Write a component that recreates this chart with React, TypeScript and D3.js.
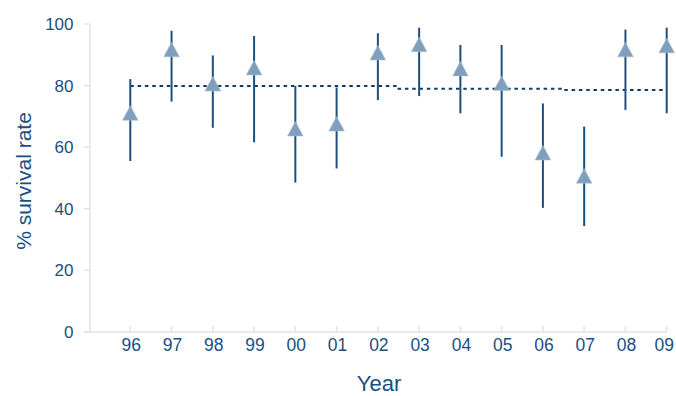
import React, { useEffect, useRef } from "react";
import * as d3 from "d3";

const years = ["96", "97", "98", "99", "00", "01", "02", "03", "04", "05", "06", "07", "08", "09"];
const survival = [71, 91.6, 80.5, 85.7, 65.9, 67.5, 90.6, 93.3, 85.4, 80.7, 58.1, 50.6, 91.6, 92.9];
const upper = [82.1, 97.8, 89.8, 96.1, 79.9, 79.4, 97, 98.8, 93.2, 93.2, 74.2, 66.7, 98.2, 98.8];
const lower = [55.5, 74.8, 66.3, 61.6, 48.5, 53.1, 75.3, 76.6, 71, 56.9, 40.3, 34.4, 72.1, 71];
const meanRate = [79.9, 79.9, 79.9, 79.9, 79.9, 79.9, 79.9, 79.0, 79.0, 79.0, 79.0, 78.6, 78.6, 78.6];
const yTicks = [0, 20, 40, 60, 80, 100];

const textColor = "#1a4f84";
const barColor = "#1d4f7e";
const markColor = "#809fbc";
const axisColor = "#dde4ec";
const font = "'Liberation Sans', Arial, sans-serif";

function SurvivalChart() {
  const svgRef = useRef(null);
  const svgWidth = 676;
  const svgHeight = 396;

  useEffect(() => {
    const svg = d3.select(svgRef.current);
    svg.selectAll("*").remove();

    const x = d3.scalePoint().domain(years).range([130.3, 666.7]);
    const y = d3.scaleLinear().domain([0, 100]).range([332, 24]);
    const x0 = 90;

    // axes
    svg
      .append("line")
      .attr("x1", x0)
      .attr("x2", x0)
      .attr("y1", y(100))
      .attr("y2", y(0))
      .attr("stroke", axisColor)
      .attr("stroke-width", 1.5);

    svg
      .append("line")
      .attr("x1", x0 - 6)
      .attr("x2", x("09"))
      .attr("y1", y(0))
      .attr("y2", y(0))
      .attr("stroke", axisColor)
      .attr("stroke-width", 1.5);

    yTicks.forEach((t) => {
      svg
        .append("line")
        .attr("x1", x0 - 6)
        .attr("x2", x0)
        .attr("y1", y(t))
        .attr("y2", y(t))
        .attr("stroke", axisColor)
        .attr("stroke-width", 1.5);
      svg
        .append("text")
        .attr("x", 73.5)
        .attr("y", y(t) + 6)
        .attr("text-anchor", "end")
        .style("font-family", font)
        .style("font-size", "17px")
        .attr("fill", textColor)
        .text(t);
    });

    years.forEach((yr, i) => {
      svg
        .append("line")
        .attr("x1", x(yr))
        .attr("x2", x(yr))
        .attr("y1", y(0) - 6)
        .attr("y2", y(0))
        .attr("stroke", axisColor)
        .attr("stroke-width", 1.5);
      svg
        .append("text")
        .attr("x", i === years.length - 1 ? x(yr) - 2.5 : x(yr) + 1)
        .attr("y", 351)
        .attr("text-anchor", "middle")
        .style("font-family", font)
        .style("font-size", "17.5px")
        .attr("fill", textColor)
        .text(yr);
    });

    // mean line
    const meanLine = d3
      .line()
      .x((d, i) => x(years[i]))
      .y((d) => y(d))
      .curve(d3.curveStep);

    svg
      .append("path")
      .attr("d", meanLine(meanRate))
      .attr("fill", "none")
      .attr("stroke", "#0e3d6a")
      .attr("stroke-width", 2)
      .attr("stroke-dasharray", "3.5,3.8");

    // error bars
    svg
      .selectAll(".err")
      .data(years)
      .enter()
      .append("line")
      .attr("class", "err")
      .attr("x1", (d) => x(d))
      .attr("x2", (d) => x(d))
      .attr("y1", (d, i) => y(upper[i]))
      .attr("y2", (d, i) => y(lower[i]))
      .attr("stroke", barColor)
      .attr("stroke-width", 2);

    // triangles
    svg
      .selectAll(".pt")
      .data(years)
      .enter()
      .append("path")
      .attr("class", "pt")
      .attr("d", (d, i) => {
        const cx = x(d);
        const cy = y(survival[i]);
        return `M${cx},${cy - 7.5}L${cx + 7.8},${cy + 7}L${cx - 7.8},${cy + 7}Z`;
      })
      .attr("fill", markColor)
      .attr("stroke", "#a9bfd4")
      .attr("stroke-width", 0.6);

    // axis titles
    svg
      .append("text")
      .attr("x", 379)
      .attr("y", 391)
      .attr("text-anchor", "middle")
      .style("font-family", font)
      .style("font-size", "22px")
      .attr("fill", textColor)
      .text("Year");

    svg
      .append("text")
      .attr("transform", `translate(31,181) rotate(-90)`)
      .attr("text-anchor", "middle")
      .style("font-family", font)
      .style("font-size", "21px")
      .attr("fill", textColor)
      .text("% survival rate");
  }, []);

  return (
    <div>
      <style>{"body{margin:0}"}</style>
      <svg ref={svgRef} width={svgWidth} height={svgHeight} style={{ display: "block" }}></svg>
    </div>
  );
}

export default function App() {
  return <SurvivalChart />;
}
